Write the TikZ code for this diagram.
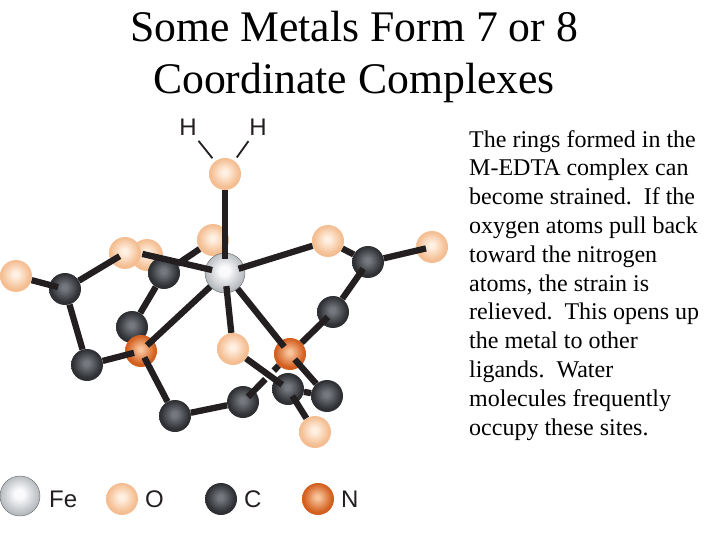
\documentclass[tikz,border=0pt]{standalone}
\usepackage{fontspec}
\setmainfont{Liberation Serif}
\newfontfamily\labelfont{Liberation Sans}
\definecolor{bondc}{HTML}{231F20}
\definecolor{ocen}{HTML}{FFF0E2}
\definecolor{oedge}{HTML}{F4BE92}
\definecolor{ccen}{HTML}{75787E}
\definecolor{cedge}{HTML}{2E3034}
\definecolor{ncen}{HTML}{F8C49C}
\definecolor{nedge}{HTML}{D4601F}
\definecolor{fcen}{HTML}{FAFAFC}
\definecolor{fedge}{HTML}{B4B8BC}
\pgfdeclareradialshading{oball}{\pgfpoint{-1bp}{3bp}}{color(0bp)=(ocen); color(4bp)=(ocen); color(22bp)=(oedge); color(60bp)=(oedge)}
\pgfdeclareradialshading{cball}{\pgfpoint{-1bp}{3bp}}{color(0bp)=(ccen); color(4bp)=(ccen); color(22bp)=(cedge); color(60bp)=(cedge)}
\pgfdeclareradialshading{nball}{\pgfpoint{-1bp}{3bp}}{color(0bp)=(ncen); color(3bp)=(ncen); color(22bp)=(nedge); color(60bp)=(nedge)}
\pgfdeclareradialshading{fball}{\pgfpoint{-1bp}{3bp}}{color(0bp)=(fcen); color(6bp)=(fcen); color(25bp)=(fedge); color(60bp)=(fedge)}
\tikzset{
  atom/.style={circle,inner sep=0pt,minimum size=32pt},
  oatom/.style={atom,shading=oball},
  catom/.style={atom,shading=cball},
  natom/.style={atom,shading=nball},
  featom/.style={atom,shading=fball,minimum size=40pt,draw=black!60,line width=0.4pt},
  bond/.style={draw=bondc,line width=6.3pt},
  hbond/.style={draw=bondc,line width=1.8pt,shorten <=6pt,shorten >=4pt},
  elem/.style={font=\labelfont\fontsize{24}{24}\selectfont,text=bondc,inner sep=0pt,anchor=base west},
  hlabel/.style={font=\labelfont\fontsize{24}{24}\selectfont,text=bondc,inner sep=0pt,anchor=base},
  titletext/.style={font=\fontsize{43.7}{52}\selectfont,align=center,inner sep=0pt,anchor=north},
  bodytext/.style={font=\fontsize{24}{28.8}\selectfont,align=left,inner sep=0pt,anchor=north west},
}
\begin{document}
\begin{tikzpicture}[x=1pt,y=-1pt]
\useasboundingbox (0,0) rectangle (720,540);
\node[titletext] (title) at (354,11) {Some Metals Form 7 or 8\\Coordinate Complexes};
\node[bodytext] (body) at (469,130) {The rings formed in the\\M-EDTA complex can\\become strained.\ \ If the\\oxygen atoms pull back\\toward the nitrogen\\atoms, the strain is\\relieved.\ \ This opens up\\the metal to other\\ligands.\ \ Water\\molecules frequently\\occupy these sites.};
% atoms
\node[oatom] (owater) at (225,174) {};
\node[oatom] (oa) at (213,240) {};
\node[oatom] (ob) at (147,255) {};
\node[oatom] (oc) at (125,253) {};
\node[oatom] (od) at (16,276) {};
\node[oatom] (oe) at (233,349) {};
\node[oatom] (of) at (328,241) {};
\node[oatom] (og) at (432,247) {};
\node[oatom] (oh) at (315,432) {};
\node[catom] (ca) at (65,289) {};
\node[catom] (cb) at (164,273) {};
\node[catom] (cc) at (132,327) {};
\node[catom] (cd) at (87,365) {};
\node[catom] (ce) at (175,416) {};
\node[catom] (cf) at (243,402) {};
\node[catom] (cg) at (288,389) {};
\node[catom] (ch) at (327,396) {};
\node[catom] (ci) at (333,312) {};
\node[catom] (cj) at (368,262) {};
\node[natom] (na) at (141,351) {};
\node[natom] (nb) at (290,354) {};
\node[featom] (fe) at (225,273) {};
% hydrogens
\node[hlabel] (ha) at (188,136) {H};
\node[hlabel] (hb) at (258,136) {H};
\draw[hbond] (ha) -- (owater);
\draw[hbond] (hb) -- (owater);
% bonds
\draw[bond,shorten >=-6pt] (owater) -- (fe);
\draw[bond,shorten <=-6pt] (fe) -- (of);
\draw[bond,shorten <=-7pt,shorten >=0pt] (fe) -- (oe);
\draw[bond,shorten >=-7pt] (fe) -- (nb);
\draw[bond,shorten >=-8pt] (fe) -- (na);
\draw[bond,shorten <=-21pt,shorten >=-7pt] (ob) -- (fe);
\draw[bond] (cb) -- (oa);
\draw[bond] (cb) -- (cc);
\draw[bond,shorten >=-9pt] (od) -- (ca);
\draw[bond,shorten >=-10pt] (ca) -- (oc);
\draw[bond] (ca) -- (cd);
\draw[bond,shorten >=-9pt] (cd) -- (na);
\draw[bond,shorten <=-9pt] (na) -- (ce);
\draw[bond] (ce) -- (cf);
\draw[bond,dash pattern=on 7pt off 12pt on 40pt,shorten >=-9pt] (nb) -- (cf);
\draw[bond,shorten >=-10pt] (cj) -- (og);
\draw[bond] (of) -- (cj);
\draw[bond,shorten <=-8pt] (cj) -- (ci);
\draw[bond,shorten <=-9pt] (ci) -- (nb);
\draw[bond,shorten <=-9pt] (nb) -- (ch);
\draw[bond,shorten >=-9pt] (oe) -- (cg);
\draw[bond] (cg) -- (ch);
\draw[bond,shorten <=-8pt] (cg) -- (oh);
% legend
\node[featom] (lfe) at (20,496) {};
\node[elem] (tfe) at (49,507) {Fe};
\node[oatom] (lo) at (122,499) {};
\node[elem] (to) at (145,507) {O};
\node[catom] (lc) at (221,499) {};
\node[elem] (tc) at (244,507) {C};
\node[natom] (ln) at (318,499) {};
\node[elem] (tn) at (341,507) {N};
\end{tikzpicture}
\end{document}
